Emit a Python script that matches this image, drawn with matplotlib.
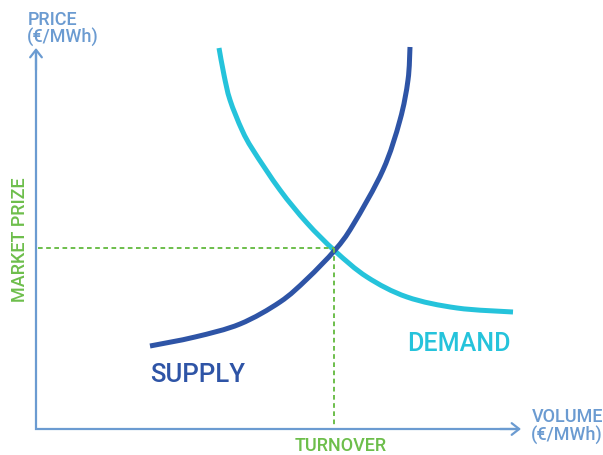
import matplotlib
matplotlib.use("Agg")
import matplotlib.pyplot as plt
from matplotlib.path import Path
from matplotlib.patches import PathPatch

# curve points (x right, y down, pixel-like units)
supply_x = [150, 195, 240, 280, 307, 335, 353, 383, 400, 408, 410]
supply_y = [346, 337, 324, 302, 279, 250, 225, 170, 120, 80, 47]

demand_x = [219, 224, 230, 242, 253, 280, 307, 335, 367, 407, 457, 513]
demand_y = [48, 75, 100, 130, 150, 190, 223, 251, 277, 297, 308, 312]

# equilibrium
eq_x = 334
eq_y = 248

axis_col = "#6B9BD1"
supply_col = "#2E54A6"
demand_col = "#25C3DB"
green = "#6DBE4B"
font = ["Roboto", "DejaVu Sans"]


def smooth_path(xs, ys):
    # Catmull-Rom through the read points, drawn as cubic Bezier segments
    pts = list(zip(xs, ys))
    verts = [pts[0]]
    codes = [Path.MOVETO]
    n = len(pts)
    for i in range(n - 1):
        p0 = pts[max(i - 1, 0)]
        p1 = pts[i]
        p2 = pts[i + 1]
        p3 = pts[min(i + 2, n - 1)]
        c1 = (p1[0] + (p2[0] - p0[0]) / 6, p1[1] + (p2[1] - p0[1]) / 6)
        c2 = (p2[0] - (p3[0] - p1[0]) / 6, p2[1] - (p3[1] - p1[1]) / 6)
        verts += [c1, c2, p2]
        codes += [Path.CURVE4] * 3
    return Path(verts, codes)


fig = plt.figure(figsize=(6.03, 4.55), dpi=100)
ax = fig.add_axes([0, 0, 1, 1])
ax.set_xlim(0, 603)
ax.set_ylim(455, 0)
ax.axis("off")

# axes with arrows
ax.plot([36, 36, 516], [52, 429, 429], color=axis_col, lw=1.6,
        solid_joinstyle="miter", solid_capstyle="butt")
ax.annotate("", xy=(36, 48), xytext=(36, 70),
            arrowprops=dict(arrowstyle="->,head_length=0.45,head_width=0.35",
                            color=axis_col, lw=1.6, shrinkA=0, shrinkB=0,
                            mutation_scale=12))
ax.annotate("", xy=(521, 429), xytext=(500, 429),
            arrowprops=dict(arrowstyle="->,head_length=0.45,head_width=0.35",
                            color=axis_col, lw=1.6, shrinkA=0, shrinkB=0,
                            mutation_scale=12))

# equilibrium guides
ax.plot([38, eq_x], [eq_y, eq_y], color=green, lw=1.4, ls=(0, (2.4, 1.8)))
ax.plot([eq_x, eq_x], [eq_y, 427], color=green, lw=1.4, ls=(0, (2.4, 1.8)))

# curves
ax.add_patch(PathPatch(smooth_path(demand_x, demand_y), fill=False,
                       edgecolor=demand_col, lw=3.6, capstyle="butt"))
ax.add_patch(PathPatch(smooth_path(supply_x, supply_y), fill=False,
                       edgecolor=supply_col, lw=3.6, capstyle="butt"))

# labels
txt = dict(family=font, fontweight="medium")
ax.text(28, 25, "PRICE", color=axis_col, fontsize=13, ha="left",
        va="baseline", **txt)
ax.text(27, 43, "(€/MWh)", color=axis_col, fontsize=13, ha="left",
        va="baseline", **txt)
ax.text(532, 422, "VOLUME", color=axis_col, fontsize=13, ha="left",
        va="baseline", **txt)
ax.text(531, 441, "(€/MWh)", color=axis_col, fontsize=13, ha="left",
        va="baseline", **txt)
ax.text(20, 240, "MARKET PRIZE", color=green, fontsize=13, rotation=90,
        ha="center", va="center", **txt)
ax.text(341, 451, "TURNOVER", color=green, fontsize=13, ha="center",
        va="baseline", **txt)
ax.text(150, 382, "SUPPLY", color=supply_col, fontsize=18.5, ha="left",
        va="baseline", **txt)
ax.text(407, 351, "DEMAND", color=demand_col, fontsize=18, ha="left",
        va="baseline", **txt)

fig.savefig("out.png", dpi=100)
